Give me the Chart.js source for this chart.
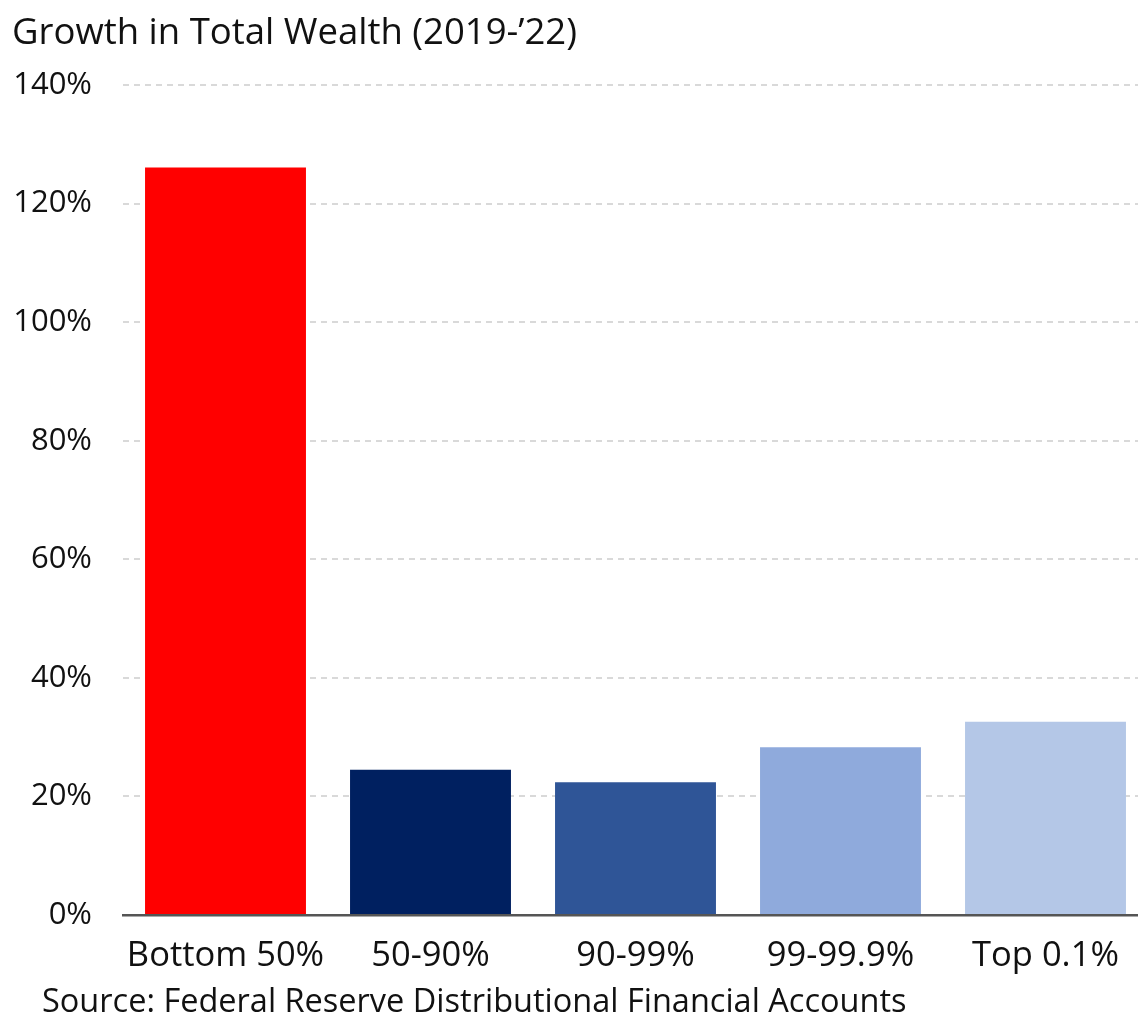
<!DOCTYPE html>
<html>
<head>
<meta charset="utf-8">
<script src="https://cdn.jsdelivr.net/npm/chart.js@4"></script>
<style>
  body { margin: 0; background: #fff; overflow: hidden; }
  .wrap { position: relative; width: 1150px; height: 1017px; }
  .title { position: absolute; left: 12px; top: 6px; font: 36.5px "Open Sans", sans-serif; color: #111; white-space: nowrap; line-height: 48px; }
  .source { position: absolute; left: 42px; top: 978px; font: 32.5px "Open Sans", sans-serif; color: #111; white-space: nowrap; line-height: 44px; }
  canvas { position: absolute; left: 0; top: 0; }
</style>
</head>
<body>
<div class="wrap">
  <canvas id="myChart" width="1150" height="990"></canvas>
  <div class="title">Growth in Total Wealth (2019-’22)</div>
  <div class="source">Source: Federal Reserve Distributional Financial Accounts</div>
</div>
<script>
// Wealth groups and growth 2019-'22, percent
const groups = ["Bottom 50%", "50-90%", "90-99%", "99-99.9%", "Top 0.1%"];
const growth = [126.1, 24.5, 22.4, 28.3, 32.6];
const barColors = ["#ff0000", "#002060", "#2f5597", "#8faadc", "#b4c7e7"];
const yTicks = [0, 20, 40, 60, 80, 100, 120, 140];

const ctx = document.getElementById('myChart').getContext('2d');
const myChart = new Chart(ctx, {
    type: 'bar',
    data: {
        labels: groups,
        datasets: [{
            data: growth,
            backgroundColor: barColors,
            borderWidth: 0,
            categoryPercentage: 1,
            barPercentage: 0.785
        }]
    },
    options: {
        responsive: false,
        animation: false,
        layout: { padding: { left: 14, top: 85, right: 2, bottom: 0 } },
        plugins: {
            legend: { display: false },
            tooltip: { enabled: false }
        },
        scales: {
            x: {
                afterFit: axis => { axis.height = 75; },
                grid: { display: false },
                border: { display: true, color: '#555', width: 2.5 },
                ticks: {
                    color: '#111',
                    padding: 12,
                    font: { family: 'Open Sans', size: 34.5 }
                }
            },
            y: {
                min: 0,
                max: 140,
                afterFit: axis => { axis.width = 109; },
                afterBuildTicks: axis => { axis.ticks = yTicks.map(v => ({ value: v })); },
                grid: {
                    drawTicks: false,
                    // zero line is covered by the x axis border
                    color: c => c.tick && c.tick.value === 0 ? 'rgba(0,0,0,0)' : '#d9d9d9',
                    lineWidth: 2
                },
                border: { display: false, dash: [6, 5] },
                ticks: {
                    color: '#111',
                    padding: 31,
                    font: { family: 'Open Sans', size: 31 },
                    callback: v => v + '%'
                }
            }
        }
    }
});
</script>
</body>
</html>
